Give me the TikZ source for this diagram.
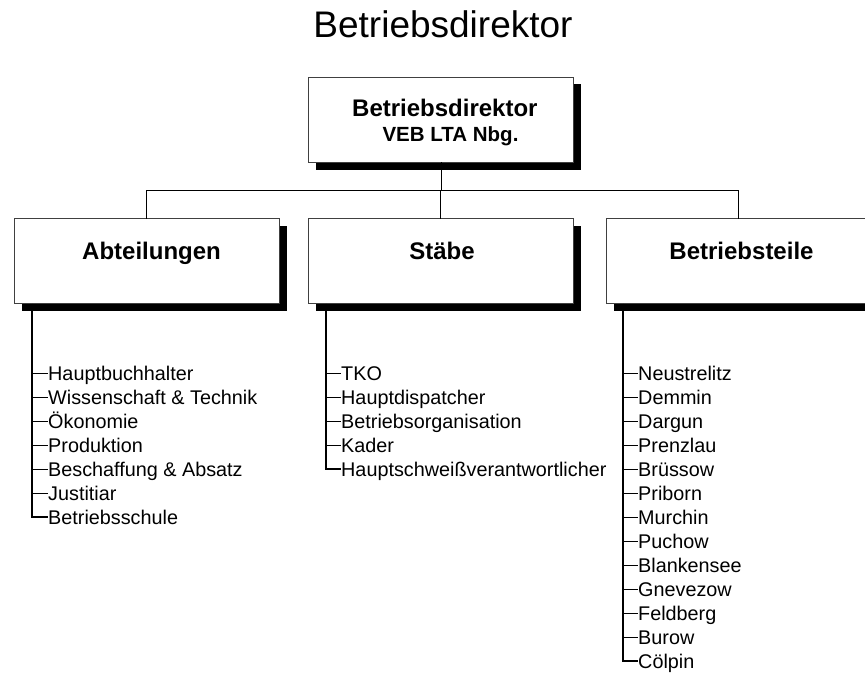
\documentclass[tikz,border=0pt]{standalone}
\usepackage{fontspec}
\setmainfont{Liberation Sans}
\usetikzlibrary{shadows}
\begin{document}
\begin{tikzpicture}[x=1pt,y=-1pt,
  orgbox/.style={draw=black!75, line width=0.9pt, fill=white,
    minimum width=265pt, minimum height=85pt, inner sep=0pt, outer sep=0pt,
    drop shadow={shadow xshift=7.5pt, shadow yshift=-7.5pt, fill=black, opacity=1}},
  boxlabel/.style={font=\bfseries\fontsize{24}{28}\selectfont, anchor=base, inner sep=0pt},
  conn/.style={line width=1pt, black},
  stem/.style={line width=1.4pt, black},
  tick/.style={line width=0.9pt, black},
  item/.style={font=\fontsize{19.8}{24}\selectfont, anchor=west, inner xsep=0.5pt, inner ysep=0pt,
    text height=15pt, text depth=1pt}]
\useasboundingbox (0,0) rectangle (865,677);
\fill[white] (0,0) rectangle (865,677);
\clip (0,0) rectangle (865,677);

% title
\node[anchor=base, inner sep=0pt, font=\fontsize{37}{44}\selectfont] (title) at (443,38) {Betriebsdirektor};

% boxes
\node[orgbox] (top) at (441,119.5) {};
\node[boxlabel, anchor=base west] (topl1) at (352,117) {Betriebsdirektor};
\node[boxlabel, anchor=base, font=\bfseries\fontsize{20.5}{24}\selectfont] (topl2) at (450.5,141) {VEB LTA Nbg.};

\node[orgbox] (abt) at (146.5,261) {};
\node[boxlabel] (abtl) at (151.5,259) {Abteilungen};
\node[orgbox] (st) at (440.5,261) {};
\node[boxlabel] (stl) at (442,259) {Stäbe};
\node[orgbox] (bt) at (738.5,261) {};
\node[boxlabel] (btl) at (741.5,259) {Betriebsteile};

% connectors
\coordinate (bus) at (441,190);
\draw[conn] (top.south) -- (bus);
\draw[conn] (abt.north |- bus) -- (bt.north |- bus);
\draw[conn] (abt.north |- bus) -- (abt.north);
\draw[conn] (st.north |- bus) -- (st.north);
\draw[conn] (bt.north |- bus) -- (bt.north);

% Abteilungen list
\coordinate (sA) at ([xshift=18pt]abt.south west);
\foreach \t [count=\i] in {Hauptbuchhalter, Wissenschaft \& Technik, Ökonomie, Produktion, Beschaffung \& Absatz, Justitiar, Betriebsschule}
  \node[item] (a\i) at (47.5,349+24*\i) {\t};
\foreach \i in {1,...,6} \draw[tick] (a\i.west -| sA) -- (a\i.west);
\draw[stem] (sA) |- (a7.west);

% Stäbe list
\coordinate (sB) at ([xshift=18pt]st.south west);
\foreach \t [count=\i] in {TKO, Hauptdispatcher, Betriebsorganisation, Kader, Hauptschweißverantwortlicher}
  \node[item] (b\i) at (340.5,349+24*\i) {\t};
\foreach \i in {1,...,4} \draw[tick] (b\i.west -| sB) -- (b\i.west);
\draw[stem] (sB) |- (b5.west);

% Betriebsteile list
\coordinate (sC) at ([xshift=17pt]bt.south west);
\foreach \t [count=\i] in {Neustrelitz, Demmin, Dargun, Prenzlau, Brüssow, Priborn, Murchin, Puchow, Blankensee, Gnevezow, Feldberg, Burow, Cölpin}
  \node[item] (c\i) at (637.5,349+24*\i) {\t};
\foreach \i in {1,...,12} \draw[tick] (c\i.west -| sC) -- (c\i.west);
\draw[stem] (sC) |- (c13.west);
\end{tikzpicture}
\end{document}
